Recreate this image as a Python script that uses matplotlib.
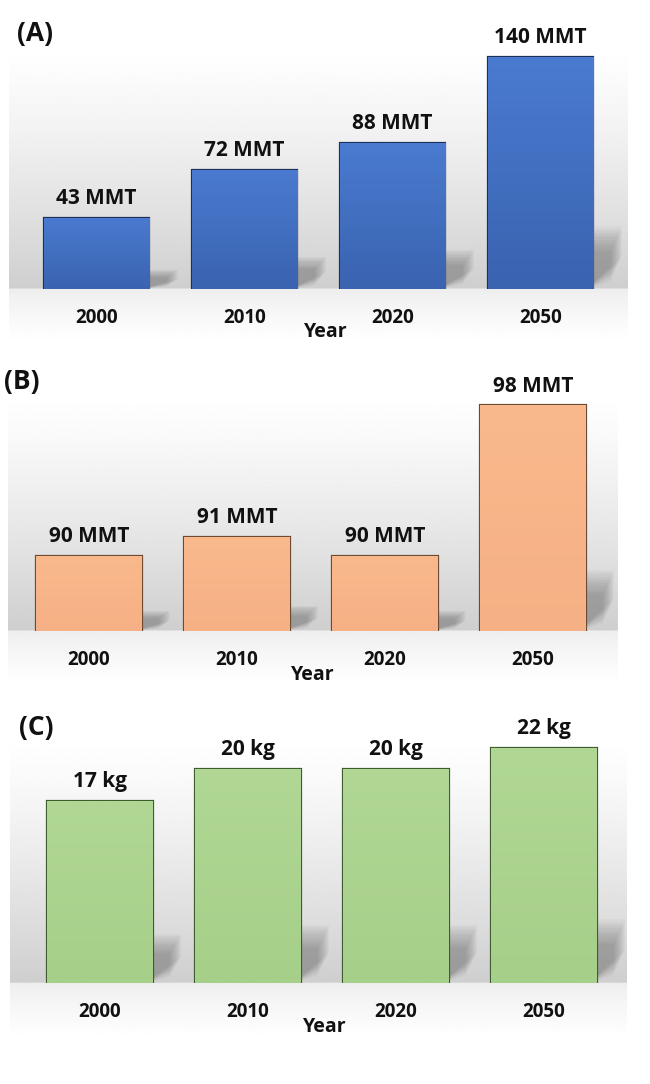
import numpy as np
import matplotlib
matplotlib.use('Agg')
import matplotlib.pyplot as plt
from matplotlib.colors import LinearSegmentedColormap
from matplotlib.patches import Polygon

plt.rcParams['font.family'] = ['Open Sans', 'DejaVu Sans']

# data
years = ['2000', '2010', '2020', '2050']
vals_a = [43, 72, 88, 140]
vals_b = [90, 91, 90, 98]
vals_c = [17, 20, 20, 22]
unit_a = 'MMT'
unit_b = 'MMT'
unit_c = 'kg'

W, H = 650, 1084
fig = plt.figure(figsize=(W / 100, H / 100), dpi=100)


def frac(l, t, r, b):
    # pixel box -> figure fraction
    return [l / W, 1 - b / H, (r - l) / W, (b - t) / H]


def background(l, t, r, b, base):
    ax = fig.add_axes(frac(l, t, r, b), zorder=0)
    y = np.linspace(0, 1, 400)
    kb = (base - t) / (b - t)
    g = np.where(y < kb,
                 1 - 0.19 * (y / kb) ** 1.25,
                 0.93 + 0.07 * ((y - kb) / (1 - kb)) ** 0.8)
    img = np.repeat(g[:, None], 2, axis=1)
    ax.imshow(img, cmap='gray', vmin=0, vmax=1, aspect='auto',
              interpolation='bilinear')
    ax.axis('off')


def panel(values, unit, top_col, bot_col, edge, c0, base, scale, ymin,
          bg, tag, tagpos, yearpos):
    background(*bg, base)
    step = 148
    left = c0 - 0.65 * step
    right = c0 + 3.65 * step
    hpx = 262
    ax = fig.add_axes(frac(left, base - hpx, right, base), zorder=1)
    ax.patch.set_alpha(0)
    ymax = ymin + hpx / scale
    x = np.arange(len(values))
    bars = ax.bar(x, np.array(values) - ymin, width=0.71, bottom=ymin,
                  color=bot_col, edgecolor=edge, linewidth=1.6, zorder=3)
    cmap = LinearSegmentedColormap.from_list('bar', [bot_col, top_col])
    for b, v in zip(bars, values):
        xl, xr = b.get_x(), b.get_x() + b.get_width()
        s = 0.235 * (v - ymin)
        # soft shadow falling back to the right of the bar
        for k in np.linspace(0.7, 1.15, 12):
            dx = 0.17 * k
            shadow = Polygon([(xr - 0.05, ymin), (xr - 0.05, ymin + s * k),
                              (xr + dx, ymin + s * k),
                              (xr + dx, ymin + s * (k - 0.55))],
                             closed=True, color='#5a5a5a', alpha=0.045,
                             lw=0, zorder=2)
            ax.add_patch(shadow)
        grad = np.linspace(0, 1, 100)[:, None]
        im = ax.imshow(grad, cmap=cmap, origin='lower', aspect='auto',
                       extent=[xl, xr, ymin, v], zorder=3.5)
        im.set_clip_path(b)
        ax.add_patch(Polygon(b.get_verts(), closed=True, fill=False,
                             edgecolor=edge, lw=1.6, zorder=4))
        ax.annotate(f'{v} {unit}', (b.get_x() + b.get_width() / 2, v),
                    xytext=(0, 10), textcoords='offset points',
                    ha='center', va='baseline', fontsize=15,
                    fontweight='bold', color='#111111')
    ax.set_xlim(-0.65, 3.65)
    ax.set_ylim(ymin, ymax)
    ax.set_xticks(x, years)
    ax.set_yticks([])
    ax.tick_params(length=0, pad=14, labelsize=13.5, labelcolor='#111111')
    for lab in ax.get_xticklabels():
        lab.set_fontweight('bold')
    for sp in ax.spines.values():
        sp.set_visible(False)
    ax.set_xlabel('Year', fontsize=14, fontweight='bold', color='#111111')
    ax.xaxis.set_label_coords((yearpos[0] - left) / (right - left),
                              -(yearpos[1] - base) / hpx)
    ax.xaxis.label.set_va('center')
    fig.text(tagpos[0] / W, 1 - tagpos[1] / H, tag, ha='center', va='center',
             fontsize=19, fontweight='bold', color='#111111')


panel(vals_a, unit_a, '#4a7bd0', '#3a63b0', '#1c3058', 96.5, 289, 1.6566, 0,
      (9, 45, 628, 342), '(A)', (35, 34), (326, 332))
panel(vals_b, unit_b, '#f9b98c', '#f6b085', '#6e4a32', 89, 631, 18.8, 86,
      (8, 395, 617, 685), '(B)', (22, 382), (313, 675))
panel(vals_c, unit_c, '#b0d894', '#a6cf8a', '#3f5c2e', 100, 983, 10.70, 0,
      (10, 735, 627, 1038), '(C)', (36, 728), (325, 1027))

fig.savefig('out.png', dpi=100, facecolor='white')
